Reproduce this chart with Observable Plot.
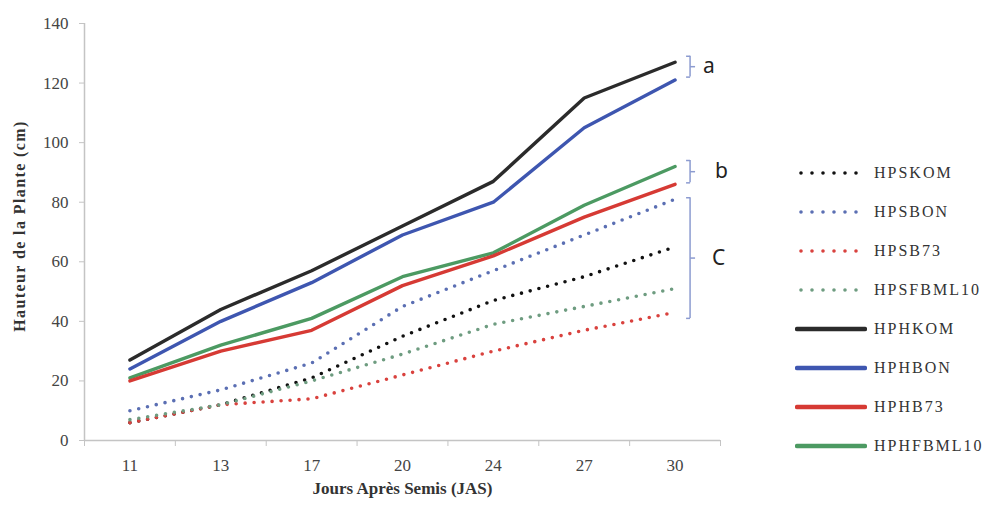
<!DOCTYPE html>
<html><head><meta charset="utf-8">
<script src="https://cdn.jsdelivr.net/npm/d3@7"></script>
<script src="https://cdn.jsdelivr.net/npm/@observablehq/plot@0.6"></script>
<style>
body{margin:0;background:#fff;}
#wrap{position:relative;width:988px;height:506px;overflow:hidden;}
#legend{position:absolute;left:795px;top:153px;font-family:"Liberation Serif",serif;font-size:16px;color:#333;letter-spacing:2px;}
.row{display:flex;align-items:center;height:39px;}
.row svg{margin-right:7px;}
#ylabel{position:absolute;left:20px;top:226px;transform:translate(-50%,-50%) rotate(-90deg);white-space:nowrap;font-family:"Liberation Serif",serif;font-weight:bold;font-size:16px;letter-spacing:1.4px;color:#333;}
</style></head><body><div id="wrap"><div id="legend"></div><div id="ylabel">Hauteur de la Plante (cm)</div></div>
<script>
// Categories (Jours Après Semis)
const days = ["11", "13", "17", "20", "24", "27", "30"];
const yTicks = [0, 20, 40, 60, 80, 100, 120, 140];

// Series (legend order)
const seriesNames = ["HPSKOM", "HPSBON", "HPSB73", "HPSFBML10", "HPHKOM", "HPHBON", "HPHB73", "HPHFBML10"];
const HPSKOM    = [6, 12, 21, 35, 47, 55, 65];
const HPSBON    = [10, 17, 26, 45, 57, 69, 81];
const HPSB73    = [6, 12, 14, 22, 30, 37, 43];
const HPSFBML10 = [7, 12, 20, 29, 39, 45, 51];
const HPHKOM    = [27, 44, 57, 72, 87, 115, 127];
const HPHBON    = [24, 40, 53, 69, 80, 105, 121];
const HPHB73    = [20, 30, 37, 52, 62, 75, 86];
const HPHFBML10 = [21, 32, 41, 55, 63, 79, 92];
const seriesValues = [HPSKOM, HPSBON, HPSB73, HPSFBML10, HPHKOM, HPHBON, HPHB73, HPHFBML10];
const seriesColors = ["#111111", "#5b6fb3", "#d9423e", "#6e9c80", "#2b2b2b", "#3e56b0", "#d63a34", "#4c9a62"];
const seriesDotted = [true, true, true, true, false, false, false, false];
const drawOrder = [0, 1, 2, 3, 7, 6, 5, 4];

// Significance groups
const bracketLabels = ["a", "b", "C"];
const bracketLow  = [122, 86.5, 41];
const bracketHigh = [129, 94, 81.5];
const bracketColor = "#8c9bd0";
const bracketLabelDx = [28, 40, 37];

const data = seriesNames.map((name, s) => seriesValues[s].map((v, i) => ({name, i, v})));
const idx = d3.range(days.length);
const bounds = d3.range(days.length + 1).map(i => i - 0.5);
const last = days.length - 1;
const brackets = bracketLabels.map((label, k) => ({label, lo: bracketLow[k], hi: bracketHigh[k], mid: (bracketLow[k] + bracketHigh[k]) / 2}));
const bracketEnds = brackets.flatMap(b => [{y: b.lo}, {y: b.hi}]);

const leftTick = {draw(ctx) { ctx.moveTo(-4, 0); ctx.lineTo(0, 0); }};
const rightTick = {draw(ctx) { ctx.moveTo(0, 0); ctx.lineTo(5, 0); }};

const lineMarks = drawOrder.map(s => Plot.line(data[s], {
  x: "i", y: "v",
  stroke: seriesColors[s],
  strokeWidth: seriesDotted[s] ? 3.6 : 3.4,
  strokeDasharray: seriesDotted[s] ? "0 9" : null,
  strokeLinecap: "round",
  strokeLinejoin: "round"
}));

const plot = Plot.plot({
  width: 988, height: 506,
  marginLeft: 84, marginRight: 268, marginTop: 23, marginBottom: 66,
  style: {fontFamily: "Liberation Serif, serif", fontSize: "17px", color: "#444", background: "transparent", overflow: "visible"},
  x: {type: "linear", domain: [-0.5, days.length - 0.5], axis: null},
  y: {domain: [0, 140], axis: null},
  marks: [
    Plot.ruleY([0], {stroke: "#c4c4c4", strokeWidth: 1.5}),
    Plot.ruleX([-0.5], {stroke: "#c4c4c4", strokeWidth: 1.5}),
    Plot.axisY({ticks: yTicks, tickSize: 5, tickPadding: 11, stroke: "#c4c4c4", fill: "#444", label: null}),
    Plot.axisX({ticks: bounds, tickSize: 6, tickFormat: () => "", stroke: "#c4c4c4", label: null}),
    Plot.axisX({ticks: idx, tickSize: 0, tickPadding: 18, tickFormat: i => days[i], fill: "#444", label: null}),
    ...lineMarks,
    Plot.ruleX(brackets, {x: () => last, y1: "lo", y2: "hi", dx: 15, stroke: bracketColor, strokeWidth: 1.5}),
    Plot.dot(bracketEnds, {x: () => last, y: "y", dx: 15, symbol: leftTick, stroke: bracketColor, strokeWidth: 1.5, fill: "none"}),
    Plot.dot(brackets, {x: () => last, y: "mid", dx: 15, symbol: rightTick, stroke: bracketColor, strokeWidth: 1.5, fill: "none"}),
    ...brackets.map((b, k) => Plot.text([b], {x: () => last, y: "mid", text: "label", dx: bracketLabelDx[k], textAnchor: "start", fontFamily: "Noto Sans, sans-serif", fontSize: 21, fill: "#222"})),
    Plot.text(["Jours Après Semis (JAS)"], {frameAnchor: "bottom", dy: 53, fontWeight: "bold", fontSize: 17, fill: "#333", style: {letterSpacing: "0.8px"}})
  ]
});
document.getElementById("wrap").prepend(plot);

// Legend
const legend = d3.select("#legend");
seriesNames.forEach((name, s) => {
  const row = legend.append("div").attr("class", "row");
  const svg = row.append("svg").attr("width", 72).attr("height", 10);
  svg.append("line")
    .attr("x1", seriesDotted[s] ? 6 : 2).attr("x2", 70).attr("y1", 5).attr("y2", 5)
    .attr("stroke", seriesColors[s])
    .attr("stroke-width", seriesDotted[s] ? 3.6 : 4.5)
    .attr("stroke-linecap", "round")
    .attr("stroke-dasharray", seriesDotted[s] ? "0 11" : null);
  row.append("span").text(name);
});
</script>
</body></html>
